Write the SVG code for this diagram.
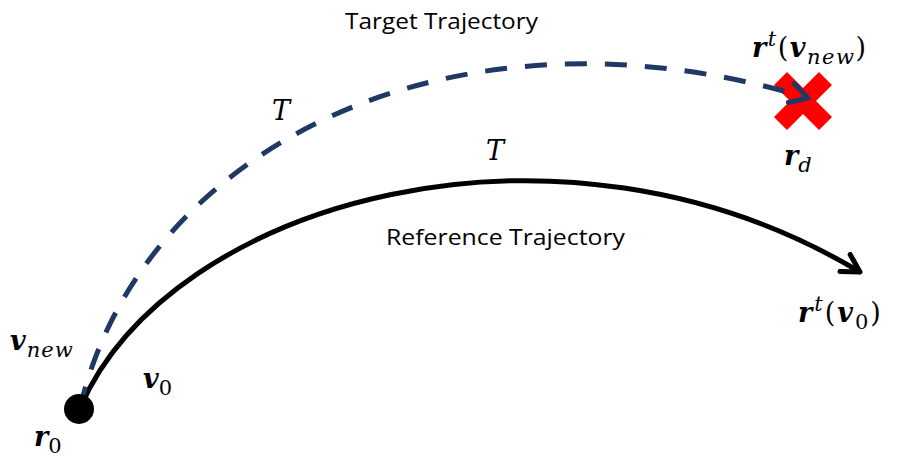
<svg xmlns="http://www.w3.org/2000/svg" width="908" height="459" viewBox="0 0 908 459">
<style>
.lbl{font-family:"Open Sans","Liberation Sans",sans-serif;font-size:21px;fill:#000}
.m{font-family:"DejaVu Serif","Liberation Serif",serif;font-size:27px;fill:#000}
.bi{font-weight:bold;font-style:italic}
.it{font-style:italic}
.sub{font-size:21px}
</style>
<defs>
<marker id="ahk" viewBox="0 0 20 20" refX="16" refY="10" markerWidth="5" markerHeight="5" markerUnits="strokeWidth" orient="auto">
<path d="M2,2 L16,10 L2,18" fill="none" stroke="#000" stroke-width="4" stroke-linecap="round" stroke-linejoin="round"/>
</marker>
<marker id="ahb" viewBox="0 0 20 20" refX="16" refY="10" markerWidth="5" markerHeight="5" markerUnits="strokeWidth" orient="auto">
<path d="M2,2 L16,10 L2,18" fill="none" stroke="#1f3864" stroke-width="4" stroke-linecap="round" stroke-linejoin="round"/>
</marker>
</defs>
<g id="target">
<path d="M787,72 L803,88 L819,72 L832,85 L816,101 L832,117 L819,130 L803,114 L787,130 L774,117 L790,101 L774,85 Z" fill="#ff0000"/>
</g>
<g id="connectors">
<path d="M80,408 C170,200 560,92 860,272" fill="none" stroke="#000" stroke-width="5" marker-end="url(#ahk)"/>
<path d="M80,408 C140,150 450,-10 808,98" fill="none" stroke="#1f3864" stroke-width="5" stroke-dasharray="22 18" marker-end="url(#ahb)"/>
</g>
<g id="start">
<circle cx="79" cy="409" r="15" fill="#000"/>
</g>
<g id="labels">
<text class="lbl" x="345" y="29" textLength="193" lengthAdjust="spacingAndGlyphs">Target Trajectory</text>
<text class="lbl" x="386" y="245" textLength="239" lengthAdjust="spacingAndGlyphs">Reference Trajectory</text>
<text class="m it" x="272" y="120">T</text>
<text class="m it" x="486" y="160">T</text>
<text class="m" x="752" y="57" letter-spacing="1.5"><tspan class="bi">r</tspan><tspan class="it sub" dy="-11">t</tspan><tspan dy="11">(</tspan><tspan class="bi">v</tspan><tspan class="it sub" dy="7">new</tspan><tspan dy="-7">)</tspan></text>
<text class="m" x="784" y="165"><tspan class="bi">r</tspan><tspan class="it sub" dy="7">d</tspan></text>
<text class="m" x="798" y="322" letter-spacing="2"><tspan class="bi">r</tspan><tspan class="it sub" dy="-11">t</tspan><tspan dy="11">(</tspan><tspan class="bi">v</tspan><tspan class="sub" dy="7">0</tspan><tspan dy="-7">)</tspan></text>
<text class="m" x="10" y="350" letter-spacing="1"><tspan class="bi">v</tspan><tspan class="it sub" dy="7">new</tspan></text>
<text class="m" x="143" y="388"><tspan class="bi">v</tspan><tspan class="sub" dy="7">0</tspan></text>
<text class="m" x="34" y="446"><tspan class="bi">r</tspan><tspan class="sub" dy="7">0</tspan></text>
</g>
</svg>
